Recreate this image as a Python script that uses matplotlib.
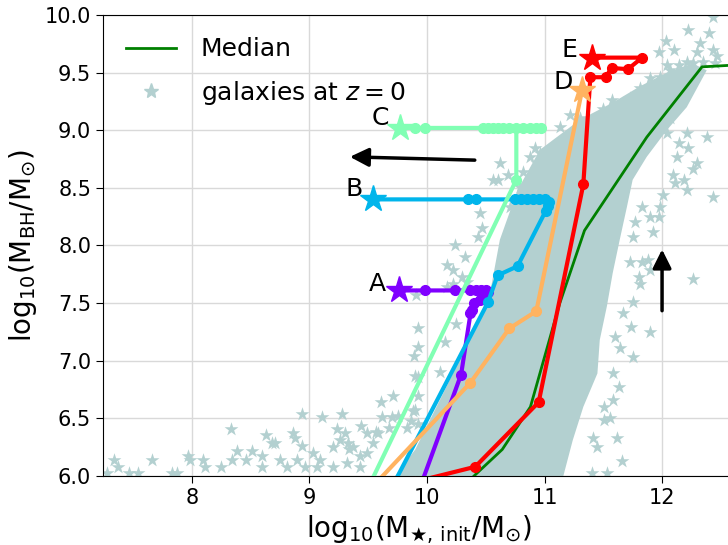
import numpy as np
import matplotlib
matplotlib.use('Agg')
import matplotlib.pyplot as plt
from matplotlib.lines import Line2D

# 中位數曲線
med_x = [10.2, 10.42, 10.64, 10.88, 11.13, 11.34, 11.87, 12.34, 12.7]
med_y = [5.8, 6.02, 6.23, 6.60, 7.50, 8.13, 8.94, 9.55, 9.57]

# 星系分布的密集區 (外框)
core_x = [9.73, 9.90, 10.11, 10.28, 10.45, 10.54, 10.62, 10.77, 10.96, 11.30, 11.58, 11.81,
          12.04, 12.26, 12.38, 12.21, 12.04, 11.87, 11.75, 11.70, 11.64, 11.58, 11.53, 11.47,
          11.45, 11.33, 11.24, 11.16]
core_y = [6.00, 6.23, 6.66, 7.01, 7.35, 7.61, 8.05, 8.48, 8.83, 9.09, 9.24, 9.38,
          9.50, 9.58, 9.52, 9.20, 9.00, 8.77, 8.57, 8.33, 8.05, 7.76, 7.47, 7.18,
          6.89, 6.60, 6.31, 6.00]

# 零散的星系
gal_x = [7.34, 7.37, 7.66, 8.33, 7.97, 7.98, 8.09, 8.11, 8.25, 8.34, 8.38, 8.46, 8.51, 8.60,
         8.63, 8.68, 8.71, 8.86, 8.88, 8.94, 8.94, 9.03, 9.11, 9.23, 9.28, 9.30, 9.33, 9.44,
         9.49, 9.58, 9.61, 9.71, 9.62, 9.70, 9.75, 9.92, 9.88, 7.28, 7.46, 7.54, 7.83, 7.87,
         9.09, 9.20, 9.26, 9.37, 9.43, 8.75, 8.81, 8.60, 8.89, 8.96, 9.06, 9.20, 9.32, 9.43,
         9.49, 9.54, 9.91, 9.92, 9.89, 9.92, 9.68, 9.83, 9.90, 9.86, 9.92,
         10.25, 9.92, 10.15, 10.11, 9.90, 9.57, 9.34,
         10.62, 10.69, 10.60, 10.45, 10.47, 10.43, 10.24, 10.32, 10.17, 10.22, 10.30, 10.22,
         10.34, 10.17, 10.92, 10.88, 10.94, 10.82, 10.79, 10.71, 11.13, 11.22, 11.16, 10.96, 10.56,
         12.43, 12.21, 12.11, 12.01, 11.98, 11.97, 11.90, 11.83, 11.92, 11.77, 11.75, 11.88,
         11.90, 11.80, 11.81, 11.83, 11.73, 12.26, 11.75, 11.67, 11.74, 11.90, 11.75, 11.60,
         11.64, 11.58, 11.63, 11.58, 11.51, 11.56, 11.51, 11.62, 11.41, 11.45, 11.66, 11.40, 11.53,
         12.43, 12.22, 12.40, 12.03, 12.10, 11.97, 12.32, 12.30, 12.43, 12.47, 12.21, 12.14,
         12.04, 12.26, 12.35, 12.45, 11.90, 11.98, 11.81, 12.07, 12.13, 11.84, 11.73, 11.64,
         11.57, 11.50, 11.41, 11.30, 11.22, 12.21, 12.38, 12.14, 12.22, 12.30, 12.26, 12.09,
         12.19, 12.13, 12.07, 11.98, 11.92, 12.04]
gal_y = [6.14, 6.08, 6.14, 6.41, 6.17, 6.14, 6.14, 6.08, 6.08, 6.14, 6.22, 6.14, 6.22, 6.17,
         6.36, 6.29, 6.29, 6.37, 6.33, 6.26, 6.54, 6.20, 6.51, 6.41, 6.54, 6.37, 6.29, 6.43,
         6.37, 6.37, 6.64, 6.69, 6.51, 6.51, 6.52, 6.69, 6.56, 6.03, 6.03, 6.03, 6.03, 6.03,
         6.14, 6.25, 6.31, 6.25, 6.17, 6.14, 6.08, 6.08, 6.14, 6.08, 6.08, 6.08, 6.11, 6.08,
         6.20, 6.29, 7.57, 7.28, 7.04, 6.86, 6.42, 6.42, 6.57, 6.48, 6.45,
         7.32, 7.12, 7.16, 6.90, 6.87, 6.38, 6.23,
         8.72, 8.61, 8.57, 8.28, 8.15, 8.07, 8.00, 7.90, 7.83, 7.79, 7.73, 7.67,
         7.68, 7.64, 8.85, 8.77, 8.72, 8.64, 8.51, 8.33, 9.03, 8.94, 8.77, 8.80, 8.57,
         8.42, 8.48, 8.54, 8.44, 8.33, 8.25, 8.25, 8.33, 8.12, 8.20, 8.07, 7.87,
         7.79, 7.73, 7.67, 7.86, 7.86, 7.71, 7.51, 7.41, 7.29, 7.25, 7.03, 7.21,
         7.11, 6.89, 6.77, 6.66, 6.60, 6.50, 6.49, 6.33, 6.33, 6.25, 6.13, 6.03, 6.03,
         9.98, 9.87, 9.84, 9.77, 9.70, 9.68, 9.76, 9.68, 9.70, 9.64, 9.59, 9.57,
         9.57, 9.58, 9.59, 9.58, 9.45, 9.46, 9.37, 9.52, 9.44, 9.26, 9.28, 9.18,
         9.26, 9.18, 9.09, 9.11, 9.13, 8.98, 8.94, 8.89, 8.85, 8.72, 8.66, 8.61,
         8.57, 8.77, 9.11, 9.06, 8.98, 8.98]

# 五個演化軌跡 A-E (第一點為起點星號)
trk_A_x = [9.76, 9.98, 10.24, 10.37, 10.42, 10.46, 10.50, 10.52, 10.48, 10.45, 10.40, 10.38, 10.37, 10.29, 9.94]
trk_A_y = [7.61, 7.61, 7.61, 7.61, 7.61, 7.61, 7.61, 7.60, 7.58, 7.53, 7.50, 7.44, 7.41, 6.88, 5.90]
trk_B_x = [9.54, 10.35, 10.42, 10.75, 10.80, 10.85, 10.90, 10.95, 11.00, 11.04, 11.03, 11.01, 10.77, 10.60, 10.52, 9.70]
trk_B_y = [8.40, 8.40, 8.40, 8.40, 8.40, 8.40, 8.40, 8.40, 8.40, 8.38, 8.34, 8.30, 7.82, 7.74, 7.51, 5.90]
trk_C_x = [9.77, 9.90, 9.98, 10.48, 10.52, 10.56, 10.60, 10.65, 10.70, 10.82, 10.88, 10.93, 10.97, 10.76, 10.76, 9.50]
trk_C_y = [9.02, 9.02, 9.02, 9.02, 9.02, 9.02, 9.02, 9.02, 9.02, 9.02, 9.02, 9.02, 9.02, 9.02, 8.57, 5.90]
trk_D_x = [11.32, 10.93, 10.70, 10.37, 9.53]
trk_D_y = [9.35, 7.43, 7.28, 6.81, 5.90]
trk_E_x = [11.40, 11.83, 11.71, 11.57, 11.52, 11.39, 11.33, 10.95, 10.41, 9.90]
trk_E_y = [9.63, 9.63, 9.53, 9.54, 9.46, 9.46, 8.53, 6.64, 6.08, 5.95]

labels = ['A', 'B', 'C', 'D', 'E']
tracks = [(trk_A_x, trk_A_y), (trk_B_x, trk_B_y), (trk_C_x, trk_C_y),
          (trk_D_x, trk_D_y), (trk_E_x, trk_E_y)]
label_xy = [(9.58, 7.67), (9.38, 8.49), (9.60, 9.11), (11.16, 9.42), (11.21, 9.70)]

gal_color = '#b3d0d0'
colors = plt.cm.rainbow(np.linspace(0, 1, 5))

fig = plt.figure(figsize=(7.28, 5.45), dpi=100)
ax = fig.add_axes([0.1415, 0.1266, 0.868, 0.8459])

ax.fill(core_x, core_y, color=gal_color, lw=0, zorder=1)
ax.scatter(gal_x, gal_y, marker='*', s=110, color=gal_color, lw=0, zorder=1)

ax.plot(med_x, med_y, color='green', lw=2, zorder=3)

for (tx, ty), c, lab, (lx, ly) in zip(tracks, colors, labels, label_xy):
    ax.plot(tx, ty, '-o', color=c, lw=3, ms=7, zorder=4)
    ax.plot(tx[0], ty[0], marker='*', color=c, ms=20, zorder=5)
    ax.text(lx, ly, lab, fontsize=18, ha='center', va='center', zorder=6)

# 箭頭
ax.annotate('', xy=(9.32, 8.77), xytext=(10.43, 8.74),
            arrowprops=dict(arrowstyle='-|>', color='black', lw=2.5, mutation_scale=28))
ax.annotate('', xy=(12.0, 7.99), xytext=(12.0, 7.41),
            arrowprops=dict(arrowstyle='-|>', color='black', lw=2.5, mutation_scale=28))

ax.set_xlim(7.243, 12.62)
ax.set_ylim(6.0, 10.0)
ax.set_xticks([8, 9, 10, 11, 12])
ax.set_yticks(np.arange(6.0, 10.01, 0.5))
ax.set_yticklabels(['%.1f' % v for v in np.arange(6.0, 10.01, 0.5)])
ax.tick_params(labelsize=15, length=5)
ax.grid(True, color='#d9d9d9', lw=1)
ax.set_axisbelow(True)

ax.set_xlabel(r'$\mathrm{log_{10}(M_{\bigstar,\,init}/M_{\odot})}$', fontsize=20)
ax.set_ylabel(r'$\mathrm{log_{10}(M_{BH}/M_{\odot})}$', fontsize=20)

handles = [Line2D([], [], color='green', lw=2),
           Line2D([], [], marker='*', ls='', color=gal_color, ms=11)]
ax.legend(handles, ['Median', 'galaxies at $z=0$'], loc='upper left', frameon=False,
          fontsize=18, labelspacing=0.7, borderaxespad=0.5, handletextpad=1.0)

plt.savefig('out.png', dpi=100)
